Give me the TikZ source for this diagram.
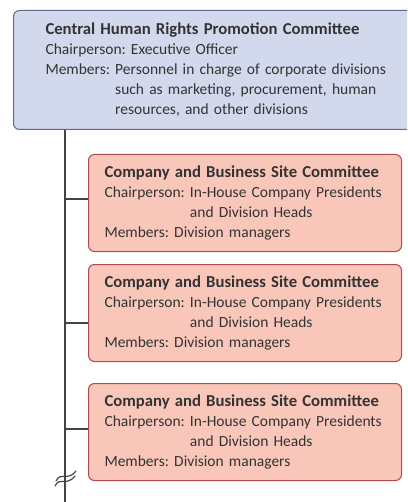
\documentclass[tikz,border=0pt]{standalone}
\usepackage{fontspec}
\setmainfont{Carlito}
\usepackage{xcolor}
\usepackage{tikz}
\usetikzlibrary{positioning,calc}
\definecolor{topfill}{HTML}{D3D9EC}
\definecolor{topline}{HTML}{5B6B8C}
\definecolor{sitefill}{HTML}{F9C7BA}
\definecolor{siteline}{HTML}{B04A4E}
\definecolor{inktext}{HTML}{333333}
\definecolor{inkline}{HTML}{444444}
\newcommand{\headline}[1]{{\fontsize{16.7}{20}\selectfont\bfseries #1}}
\tikzset{
  link/.style={draw=inkline, line width=1.4pt},
  brkline/.style={draw=inkline, line width=1.2pt, line cap=round}
}

\begin{document}
\frenchspacing
\begin{tikzpicture}[
  x=1pt, y=-1pt,
  font=\fontsize{15.5}{20}\selectfont, text=inktext,
  topbox/.style={rectangle, rounded corners=6pt, draw=topline, line width=1pt,
                 fill=topfill, align=left, anchor=north west, text width=353pt,
                 inner xsep=32pt, inner ysep=0pt, minimum height=119pt},
  sitebox/.style={rectangle, rounded corners=6pt, draw=siteline, line width=1pt,
                  fill=sitefill, align=left, anchor=north west, text width=281pt,
                  inner xsep=16pt, inner ysep=0pt, minimum height=97pt}
]
\useasboundingbox (0,0) rectangle (407,502);
\clip (0,0) rectangle (407,502);
% ---- central committee ----
\node[topbox] (central) at (13,10) {\headline{Central Human Rights Promotion Committee}\\
  Chairperson: Executive Officer\\
  Members: Personnel in charge of corporate divisions\\
  \phantom{Members:}\ such as marketing, procurement, human\\
  \phantom{Members:}\ resources, and other divisions};
% ---- site committees ----
\node[sitebox] (site1) at (88,154) {\headline{Company and Business Site Committee}\\
  Chairperson: In-House Company Presidents\\
  \phantom{Chairperson:}\ and Division Heads\\
  Members: Division managers};
\node[sitebox, below=12pt of site1] (site2) {\headline{Company and Business Site Committee}\\
  Chairperson: In-House Company Presidents\\
  \phantom{Chairperson:}\ and Division Heads\\
  Members: Division managers};
\node[sitebox, below=21pt of site2] (site3) {\headline{Company and Business Site Committee}\\
  Chairperson: In-House Company Presidents\\
  \phantom{Chairperson:}\ and Division Heads\\
  Members: Division managers};
% ---- trunk and branches ----
\coordinate (trunk) at (65,0);
\coordinate (trunkend) at (65,502);
\coordinate (brk) at (65,476);
\draw[link] (trunk |- central.south) -- (trunkend);
\draw[link] ([yshift=4pt]site1.west -| trunk) -- ([yshift=4pt]site1.west);
\draw[link] ([yshift=-10pt]site2.west -| trunk) -- ([yshift=-10pt]site2.west);
\draw[link] ([yshift=3pt]site3.west -| trunk) -- ([yshift=3pt]site3.west);
% break mark
\draw[brkline] ([shift={(-9,5)}]brk) .. controls ([shift={(-4,-5)}]brk) and ([shift={(2,6)}]brk) .. ([shift={(11,-5)}]brk);
\draw[brkline] ([shift={(-10,10)}]brk) .. controls ([shift={(-5,0)}]brk) and ([shift={(1,11)}]brk) .. ([shift={(10,0)}]brk);
\end{tikzpicture}
\end{document}
